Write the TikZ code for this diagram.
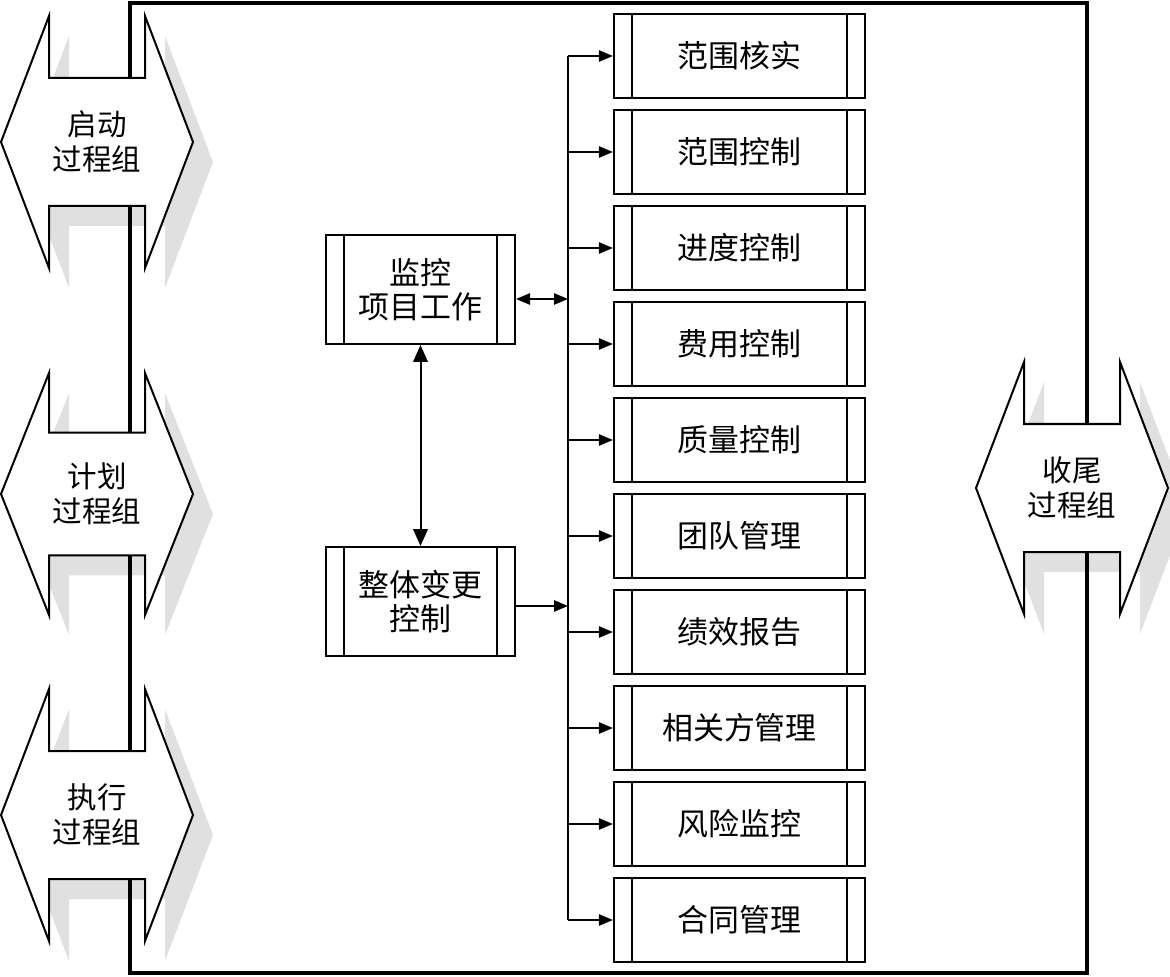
\documentclass[tikz,border=0pt]{standalone}
\usepackage{fontspec}
\usepackage{tikz}
\usetikzlibrary{arrows.meta,positioning}
\newfontfamily\cjk{Noto Sans CJK SC}

\begin{document}
\begin{tikzpicture}[x=0.025cm,y=-0.025cm,
        >={Triangle[length=0.35cm,width=0.28cm]},
        conn/.style={line width=0.05cm},
        bigtip/.style={>={Triangle[length=0.42cm,width=0.36cm]}},
        frameline/.style={line width=0.1cm},
        groupshape/.style={draw,line width=0.05cm,fill=white},
        groupshadow/.style={fill=black!12},
        grouptext/.style={align=center,inner sep=0pt,font=\cjk\fontsize{21pt}{25pt}\selectfont},
        procbox/.style={draw,line width=0.05cm,fill=white,inner sep=0pt,align=center,
            font=\cjk\fontsize{22pt}{24pt}\selectfont,
            path picture={
                \draw[line width=0.05cm] ([xshift=0.45cm]path picture bounding box.north west)
                    -- ([xshift=0.45cm]path picture bounding box.south west);
                \draw[line width=0.05cm] ([xshift=-0.45cm]path picture bounding box.north east)
                    -- ([xshift=-0.45cm]path picture bounding box.south east);
            }},
        taskbox/.style={procbox,minimum width=6.275cm,minimum height=2.1cm},
        mainbox/.style={procbox,minimum width=4.725cm,minimum height=2.725cm}]
            \useasboundingbox (0,0) rectangle (1170,977);

            \foreach \cx/\cy/\sy in {97/142/1,97/494/0.96,97/815/1,1072/488/1}
                \fill[groupshadow,shift={(\cx+20,\cy+20)},yscale=\sy] (-96,0)
                    -- (-48,-126) -- (-48,-64) -- (48,-64) -- (48,-126)
                    -- (96,0)
                    -- (48,126) -- (48,64) -- (-48,64) -- (-48,126)
                    -- cycle;

            \draw[frameline] (130,3) rectangle (1087,973);

            \foreach \cx/\cy/\sy/\nm/\lbl in {97/142/1/initg/{启动\\过程组},
                                             97/494/0.96/plang/{计划\\过程组},
                                             97/815/1/execg/{执行\\过程组},
                                             1072/488/1/closeg/{收尾\\过程组}}{
                \draw[groupshape,shift={(\cx,\cy)},yscale=\sy] (-96,0)
                    -- (-48,-126) -- (-48,-64) -- (48,-64) -- (48,-126)
                    -- (96,0)
                    -- (48,126) -- (48,64) -- (-48,64) -- (-48,126)
                    -- cycle;
                \node[grouptext] (\nm) at (\cx,\cy) {\lbl};
            }

            \node[mainbox] (monitor) at (420.5,289.5) {监控\\项目工作};
            \node[mainbox] (change) at (420.5,601.5) {整体变更\\控制};

            \foreach \nm/\lbl [count=\i from 0] in {scopever/范围核实,scopectl/范围控制,
                    schedctl/进度控制,costctl/费用控制,qualctl/质量控制,teammgt/团队管理,
                    perfrep/绩效报告,stakemgt/相关方管理,riskmon/风险监控,contmgt/合同管理}
                \node[taskbox] (\nm) at (739.5,{56+96*\i}) {\lbl};

            \coordinate (bustop) at (568,56);
            \coordinate (busbot) at (568,920);
            \coordinate (busmon) at (568,299);
            \coordinate (buschg) at (568,606);

            \draw[conn] (bustop) -- (busbot);
            \foreach \nm in {scopever,scopectl,schedctl,costctl,qualctl,
                             teammgt,perfrep,stakemgt,riskmon,contmgt}
                \draw[conn,->] (bustop |- \nm.west) -- (\nm.west);

            \draw[conn,<->] (monitor.east |- busmon) -- (busmon);
            \draw[conn,->] (change.east |- buschg) -- (buschg);
            \draw[conn,bigtip,<->] (monitor.south) -- (change.north);
        \end{tikzpicture}
\end{document}
